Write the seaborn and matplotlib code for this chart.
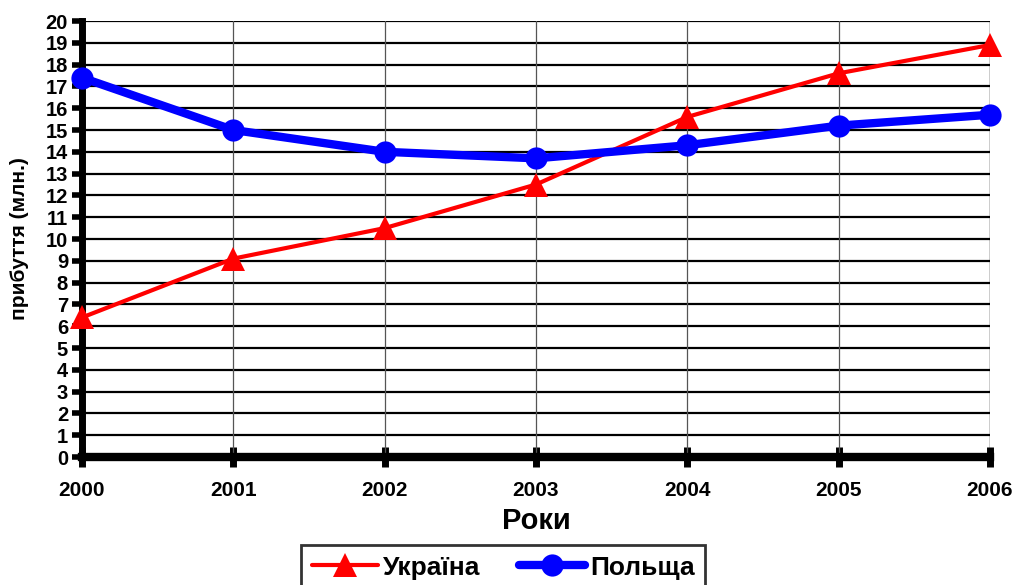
import matplotlib
matplotlib.use("Agg")
import matplotlib.pyplot as plt
import seaborn as sns
import pandas as pd

years = [2000, 2001, 2002, 2003, 2004, 2005, 2006]
ukraine = [6.4, 9.1, 10.5, 12.5, 15.6, 17.6, 18.9]
poland = [17.4, 15.0, 14.0, 13.7, 14.3, 15.2, 15.7]
yticks = list(range(0, 21))
series_names = ["Україна", "Польща"]

sns.set_theme(style="white")
plt.rcParams['font.family'] = ['Liberation Sans', 'DejaVu Sans']
plt.rcParams['font.weight'] = 'bold'
plt.rcParams['text.color'] = 'black'
plt.rcParams['axes.labelcolor'] = 'black'
plt.rcParams['xtick.color'] = 'black'
plt.rcParams['ytick.color'] = 'black'

fig = plt.figure(figsize=(10.16, 5.85), dpi=100)
ax = fig.add_axes([0.0807, 0.2188, 0.8937, 0.7453])

df_u = pd.DataFrame({"year": years, "value": ukraine})
df_p = pd.DataFrame({"year": years, "value": poland})

sns.lineplot(data=df_u, x="year", y="value", ax=ax, color="#ff0000", lw=3,
             marker="^", markersize=17, markeredgewidth=0, label=series_names[0],
             zorder=5, clip_on=False)
sns.lineplot(data=df_p, x="year", y="value", ax=ax, color="#0000ff", lw=6,
             marker="o", markersize=16, markeredgewidth=0, label=series_names[1],
             zorder=6, clip_on=False)

ax.set_xlim(2000, 2006)
ax.set_ylim(0, 20)
ax.set_xticks(years)
ax.set_xticklabels([str(y) for y in years], fontsize=15, fontweight='bold')
ax.set_yticks(yticks)
ax.set_yticklabels([str(t) for t in yticks], fontsize=14.5, fontweight='bold')

# grid
for t in yticks[1:]:
    ax.axhline(t, color="black", lw=1.6, zorder=1)
for y in years[1:-1]:
    ax.axvline(y, color="#555555", lw=0.9, zorder=1)
ax.axvline(2006, color="black", lw=1.0, zorder=1)

for s in ["top", "right"]:
    ax.spines[s].set_visible(False)
ax.spines["left"].set_linewidth(5)
ax.spines["bottom"].set_linewidth(6)
ax.spines["left"].set_color("black")
ax.spines["bottom"].set_color("black")
ax.spines["left"].set_zorder(4)
ax.spines["bottom"].set_zorder(4)

ax.tick_params(axis="y", direction="out", length=7, width=4, color="black",
               pad=3, left=True, labelcolor="black")
ax.tick_params(axis="x", direction="inout", length=14, width=5, color="black",
               pad=10, bottom=True, labelcolor="black")

ax.set_xlabel("Роки", fontsize=21, fontweight="bold", labelpad=5, color="black")
ax.set_ylabel("прибуття (млн.)", fontsize=15, fontweight="bold", labelpad=12,
              color="black")

leg = ax.legend(loc="lower center", bbox_to_anchor=(0.4955, -0.009),
                bbox_transform=fig.transFigure, ncol=2, frameon=True,
                prop={"weight": "bold", "size": 19},
                handlelength=2.5, columnspacing=1.45, handletextpad=0.2,
                borderpad=0.4, borderaxespad=0, fancybox=False, edgecolor="black")
leg.get_frame().set_linewidth(2)
for txt in leg.get_texts():
    txt.set_color("black")

fig.savefig("out.png", dpi=100)
